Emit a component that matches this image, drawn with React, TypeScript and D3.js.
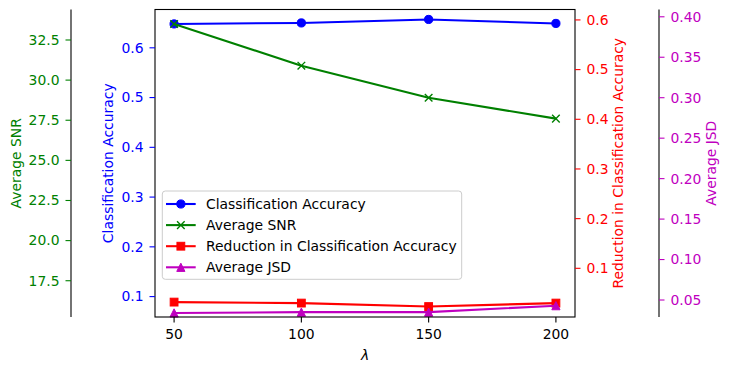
import * as d3 from 'd3'

// data
const lambdas = [50, 100, 150, 200]
const accuracy = [0.648, 0.650, 0.657, 0.649]
const snr = [33.5, 30.9, 28.9, 27.6]
const reduction = [0.032, 0.030, 0.023, 0.030]
const jsd = [0.034, 0.035, 0.035, 0.043]

const accTicks = [0.1, 0.2, 0.3, 0.4, 0.5, 0.6]
const snrTicks = [17.5, 20, 22.5, 25, 27.5, 30, 32.5]
const redTicks = [0.1, 0.2, 0.3, 0.4, 0.5, 0.6]
const jsdTicks = [0.05, 0.1, 0.15, 0.2, 0.25, 0.3, 0.35, 0.4]

const W = 729
const H = 372
const left = 155
const right = 575
const top = 9.5
const bottom = 317
const snrSpine = 71
const jsdSpine = 659
const FONT = 'DejaVu Sans, sans-serif'
const FS = 13.9
const TICK = 5.5
const PAD = 6

const BLUE = '#0000ff'
const GREEN = '#008000'
const RED = '#ff0000'
const MAG = '#bf00bf'

const x = d3.scaleLinear().domain([42.5, 207.5]).range([left, right])
const yAcc = d3.scaleLinear().domain([0.059, 0.677]).range([bottom, top])
const ySnr = d3.scaleLinear().domain([15.24, 34.4]).range([bottom, top])
const yRed = d3.scaleLinear().domain([0.002, 0.621]).range([bottom, top])
const yJsd = d3.scaleLinear().domain([0.029, 0.409]).range([bottom, top])

type Marker = 'o' | 'x' | 's' | '^'

const MarkerShape = ({ type, cx, cy, color }: { type: Marker; cx: number; cy: number; color: string }) => {
  if (type === 'o') return <circle cx={cx} cy={cy} r={4.1} fill={color} stroke={color} strokeWidth={1} />
  if (type === 's') return <rect x={cx - 3.9} y={cy - 3.9} width={7.8} height={7.8} fill={color} stroke={color} strokeWidth={1} />
  if (type === '^') {
    const s = 4.1
    return <path d={`M${cx},${cy - s}L${cx - s},${cy + s}L${cx + s},${cy + s}Z`} fill={color} stroke={color} strokeWidth={1} />
  }
  const s = 3.8
  return <path d={`M${cx - s},${cy - s}L${cx + s},${cy + s}M${cx - s},${cy + s}L${cx + s},${cy - s}`} stroke={color} strokeWidth={1.4} fill="none" />
}

const series = [
  { name: 'Classification Accuracy', values: accuracy, scale: yAcc, color: BLUE, marker: 'o' as Marker },
  { name: 'Average SNR', values: snr, scale: ySnr, color: GREEN, marker: 'x' as Marker },
  { name: 'Reduction in Classification Accuracy', values: reduction, scale: yRed, color: RED, marker: 's' as Marker },
  { name: 'Average JSD', values: jsd, scale: yJsd, color: MAG, marker: '^' as Marker },
]

const App = () => {
  const fmt1 = d3.format('.1f')
  const fmt2 = d3.format('.2f')

  return (
    <svg width={W} height={H} style={{ position: 'absolute', left: 0, top: 0, background: '#fff' }} fontFamily={FONT} fontSize={FS}>
      <rect width={W} height={H} fill="#fff" />

      {/* lines */}
      {series.map(s => {
        const line = d3.line<number>().x((_, i) => x(lambdas[i])).y(d => s.scale(d))
        return (
          <g key={s.name}>
            <path d={line(s.values) || ''} fill="none" stroke={s.color} strokeWidth={2.08} strokeLinejoin="round" />
            {s.values.map((v, i) => (
              <MarkerShape key={i} type={s.marker} cx={x(lambdas[i])} cy={s.scale(v)} color={s.color} />
            ))}
          </g>
        )
      })}

      {/* main frame */}
      <rect x={left} y={top} width={right - left} height={bottom - top} fill="none" stroke="#000" strokeWidth={1.1} />

      {/* x axis */}
      {lambdas.map(t => (
        <g key={t} transform={`translate(${x(t)},${bottom})`}>
          <line y2={TICK} stroke="#000" strokeWidth={1.1} />
          <text y={TICK + PAD} dy="0.76em" textAnchor="middle" fill="#000">{t}</text>
        </g>
      ))}
      <text x={(left + right) / 2} y={360} textAnchor="middle" fontStyle="italic" fill="#000">λ</text>

      {/* left: accuracy */}
      {accTicks.map(t => (
        <g key={t} transform={`translate(${left},${yAcc(t)})`}>
          <line x2={-TICK} stroke={BLUE} strokeWidth={1.1} />
          <text x={-TICK - PAD} dy="0.35em" textAnchor="end" fill={BLUE}>{fmt1(t)}</text>
        </g>
      ))}
      <text transform={`translate(108.3,${(top + bottom) / 2}) rotate(-90)`} dy="0.35em" textAnchor="middle" fill={BLUE}>Classification Accuracy</text>

      {/* outer left: SNR */}
      <line x1={snrSpine} x2={snrSpine} y1={top} y2={bottom} stroke="#000" strokeWidth={1.1} />
      {snrTicks.map(t => (
        <g key={t} transform={`translate(${snrSpine},${ySnr(t)})`}>
          <line x2={-TICK} stroke={GREEN} strokeWidth={1.1} />
          <text x={-TICK - PAD} dy="0.35em" textAnchor="end" fill={GREEN}>{fmt1(t)}</text>
        </g>
      ))}
      <text transform={`translate(15.7,${(top + bottom) / 2}) rotate(-90)`} dy="0.35em" textAnchor="middle" fill={GREEN}>Average SNR</text>

      {/* right: reduction */}
      {redTicks.map(t => (
        <g key={t} transform={`translate(${right},${yRed(t)})`}>
          <line x2={TICK} stroke={RED} strokeWidth={1.1} />
          <text x={TICK + PAD} dy="0.35em" textAnchor="start" fill={RED}>{fmt1(t)}</text>
        </g>
      ))}
      <text transform={`translate(618.3,${(top + bottom) / 2}) rotate(-90)`} dy="0.35em" textAnchor="middle" fill={RED}>Reduction in Classification Accuracy</text>

      {/* outer right: JSD */}
      <line x1={jsdSpine} x2={jsdSpine} y1={top} y2={bottom} stroke="#000" strokeWidth={1.1} />
      {jsdTicks.map(t => (
        <g key={t} transform={`translate(${jsdSpine},${yJsd(t)})`}>
          <line x2={TICK} stroke={MAG} strokeWidth={1.1} />
          <text x={TICK + PAD} dy="0.35em" textAnchor="start" fill={MAG}>{fmt2(t)}</text>
        </g>
      ))}
      <text transform={`translate(710.7,${(top + bottom) / 2}) rotate(-90)`} dy="0.35em" textAnchor="middle" fill={MAG}>Average JSD</text>

      {/* legend */}
      <g>
        <rect x={162.3} y={191} width={299.4} height={88.3} rx={3} fill="#fff" fillOpacity={0.8} stroke="#cccccc" strokeWidth={1} />
        {series.map((s, i) => {
          const cy = 204 + i * 21.1
          return (
            <g key={s.name}>
              <line x1={166} x2={195.7} y1={cy} y2={cy} stroke={s.color} strokeWidth={2.08} />
              <MarkerShape type={s.marker} cx={180.85} cy={cy} color={s.color} />
              <text x={206} y={cy} dy="0.35em" fill="#000">{s.name}</text>
            </g>
          )
        })}
      </g>
    </svg>
  )
}

export default App
